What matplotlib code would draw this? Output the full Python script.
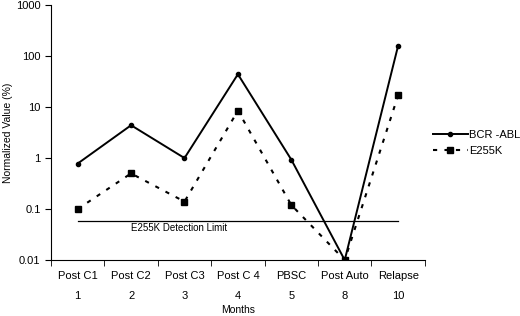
import matplotlib.pyplot as plt
import numpy as np

plt.rcParams['font.family'] = ['Liberation Sans', 'DejaVu Sans']

stages = ["Post C1", "Post C2", "Post C3", "Post C 4", "PBSC", "Post Auto", "Relapse"]
months = ["1", "2", "3", "4", "5", "8", "10"]
bcr_abl = [0.78, 4.4, 1.0, 44, 0.93, 0.01, 160]
e255k = [0.10, 0.50, 0.14, 8.5, 0.12, 0.01, 17]
detection_limit = 0.058

fig = plt.figure(figsize=(5.2, 3.16), dpi=100)
ax = fig.add_axes([0.098, 0.177, 0.719, 0.807])

x = np.arange(len(stages))
ax.plot(x, bcr_abl, color="black", lw=1.4, marker="o", ms=3, label="BCR -ABL")
ax.plot(x, e255k, color="black", lw=1.5, ls=(0, (2, 3.5)), marker="s", ms=4.5,
        label="E255K")
ax.plot([x[0], x[-1]], [detection_limit, detection_limit], color="black", lw=0.9)
ax.text(1.9, detection_limit * 0.9, "E255K Detection Limit", fontsize=7,
        ha="center", va="top")

ax.set_yscale("log")
ax.set_ylim(0.01, 1000)
ax.set_yticks([0.01, 0.1, 1, 10, 100, 1000])
ax.set_yticklabels(["0.01", "0.1", "1", "10", "100", "1000"], fontsize=8)
ax.minorticks_off()
ax.set_xlim(-0.5, len(stages) - 0.5)
ax.set_xticks(x)
ax.set_xticklabels([s + "\n\n" + m for s, m in zip(stages, months)], fontsize=8,
                   linespacing=1.0)
ax.tick_params(axis="x", length=0, pad=8)
ax.set_xticks(np.arange(-0.5, len(stages)), minor=True)
ax.tick_params(axis="x", which="minor", length=4, direction="out")
ax.tick_params(axis="y", length=4, direction="out")
ax.set_xlabel("Months", fontsize=7.5, labelpad=3)
ax.set_ylabel("Normalized Value (%)", fontsize=7.5, labelpad=2)
for s in ["top", "right"]:
    ax.spines[s].set_visible(False)

ax.legend(loc="upper left", bbox_to_anchor=(1.0, 0.54), frameon=False, fontsize=8,
          handlelength=3.2, handletextpad=0.1, borderaxespad=0.3)

fig.savefig("out.png", dpi=100)
